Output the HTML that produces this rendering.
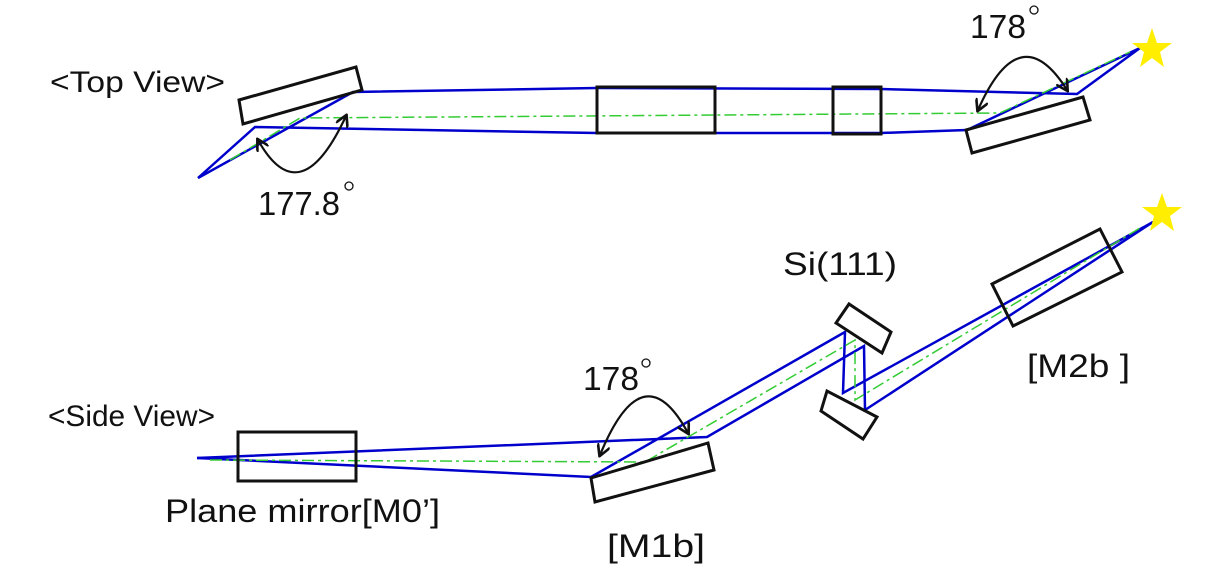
<!DOCTYPE html>
<html><head><style>
html,body{margin:0;padding:0;background:#fff;}
svg{display:block;}
text{font-family:"Liberation Sans",sans-serif;fill:#111;}
</style></head><body>
<svg width="1206" height="569" viewBox="0 0 1206 569" xmlns="http://www.w3.org/2000/svg">
<defs>
<marker id="ah" viewBox="0 0 10 10" refX="8" refY="5" markerWidth="6" markerHeight="6" orient="auto-start-reverse">
<path d="M0,0 L9,5 L0,10" fill="none" stroke="#111" stroke-width="2"/>
</marker>
</defs>
<!-- TOP VIEW -->
<text x="50" y="92" font-size="30" textLength="175" lengthAdjust="spacingAndGlyphs">&lt;Top View&gt;</text>
<g fill="none" stroke="#0000cc" stroke-width="2.5">
<polyline points="198,178 255,127 597,133 715,133 833,133 881,133 967,130 1140,48"/>
<polyline points="198,178 353,92 597,88 881,89 1077,94 1140,48"/>
</g>
<g fill="none" stroke="#33cc33" stroke-width="1.5" stroke-dasharray="12,4,3,4">
<polyline points="230,160 300,118 1000,113 1130,52"/>
</g>
<g fill="none" stroke="#111" stroke-width="3">
<polygon points="239,100 356,67 362,90 243,124"/>
<rect x="597" y="87" width="118" height="46"/>
<rect x="833" y="87" width="48" height="47"/>
<polygon points="966,130 1083,97 1090,120 972,153"/>
</g>
<g fill="none" stroke="#111" stroke-width="2.2">
<path d="M258,140 Q300,215 346,116" marker-start="url(#ah)" marker-end="url(#ah)"/>
<path d="M978,110 Q1020,15 1067,90" marker-start="url(#ah)" marker-end="url(#ah)"/>
</g>
<g fill="none" stroke="#111" stroke-width="1.3">
<circle cx="349" cy="186" r="4"/>
<circle cx="1034" cy="10" r="4"/>
<circle cx="646" cy="363" r="4"/>
</g>
<text x="258" y="215" font-size="33" textLength="82" lengthAdjust="spacingAndGlyphs">177.8</text>
<text x="970" y="38" font-size="33" textLength="56" lengthAdjust="spacingAndGlyphs">178</text>
<polygon fill="#ffee00" points="1152,28 1157,43 1172,43 1160,52 1164,67 1152,58 1140,67 1144,52 1132,43 1147,43"/>

<!-- SIDE VIEW -->
<text x="48" y="426" font-size="30" textLength="167" lengthAdjust="spacingAndGlyphs">&lt;Side View&gt;</text>
<g fill="none" stroke="#0000cc" stroke-width="2.5">
<polyline points="197,458 591,477 845,332 843,393 1153,222"/>
<polyline points="197,458 707,437 864,346 865,410 1153,222"/>
</g>
<g fill="none" stroke="#33cc33" stroke-width="1.5" stroke-dasharray="12,4,3,4">
<polyline points="210,460 645,462 855,340 855,400 1140,228"/>
</g>
<g fill="none" stroke="#111" stroke-width="3">
<rect x="238" y="432" width="118" height="49"/>
<polygon points="591,478 708,443 714,470 595,502"/>
<polygon points="836,323 849,304 891,332 882,353"/>
<polygon points="821,411 827,391 877,417 863,439"/>
<polygon points="992,284 1100,229 1122,272 1013,326"/>
</g>
<g fill="none" stroke="#111" stroke-width="2.2">
<path d="M600,455 Q643,350 688,433" marker-start="url(#ah)" marker-end="url(#ah)"/>
</g>
<text x="583" y="390" font-size="33" textLength="56" lengthAdjust="spacingAndGlyphs">178</text>
<text x="783" y="275" font-size="32" textLength="114" lengthAdjust="spacingAndGlyphs">Si(111)</text>
<text x="1027" y="377" font-size="32" textLength="103" lengthAdjust="spacingAndGlyphs">[M2b ]</text>
<text x="165" y="522" font-size="32" textLength="275" lengthAdjust="spacingAndGlyphs">Plane mirror[M0’]</text>
<text x="607" y="557" font-size="32" textLength="98" lengthAdjust="spacingAndGlyphs">[M1b]</text>
<polygon fill="#ffee00" points="1162,193 1167,207 1182,207 1170,216 1174,231 1162,222 1150,231 1154,216 1142,207 1157,207"/>
</svg>
</body></html>
